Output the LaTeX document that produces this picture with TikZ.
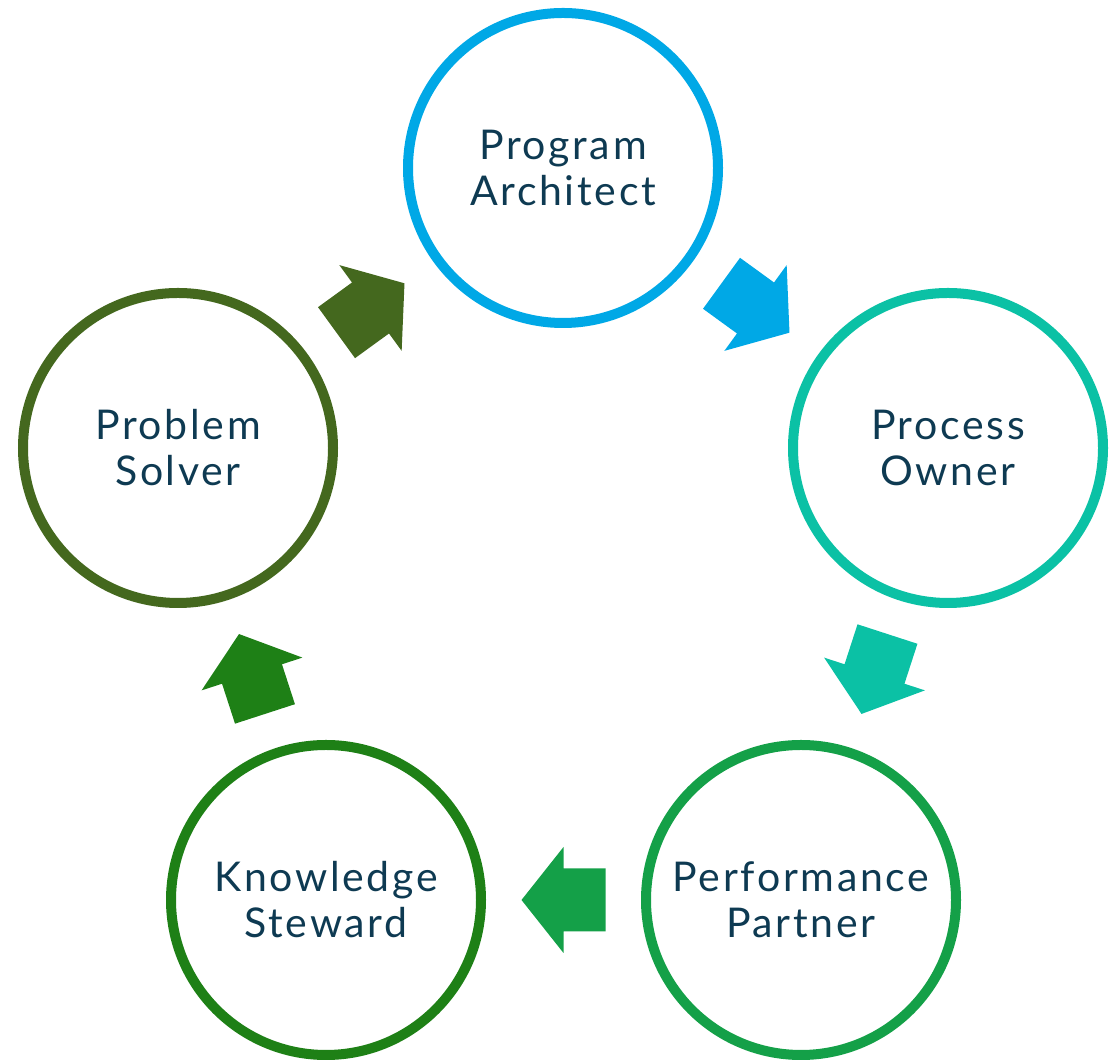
\documentclass[tikz,border=0pt]{standalone}
\usepackage{fontspec}
\setmainfont{Lato}[LetterSpace=6.5]
\usetikzlibrary{calc}

\definecolor{archblue}{RGB}{0,168,230}
\definecolor{ownerteal}{RGB}{11,193,165}
\definecolor{partnergreen}{RGB}{20,160,72}
\definecolor{stewardgreen}{RGB}{30,128,22}
\definecolor{solverolive}{RGB}{68,104,30}
\definecolor{labelnavy}{RGB}{14,58,82}

\tikzset{
	role/.style={circle, draw=#1, line width=10pt, minimum size=310pt, inner sep=0pt,
		align=center, text=labelnavy, font=\fontsize{41}{46}\selectfont},
	blockarrow/.style={fill=#1, draw=none}
}

\begin{document}
\begin{tikzpicture}[x=1pt, y=1pt]
		\useasboundingbox (0, 0) rectangle (1119, 1064);
		\node [role=archblue] (architect) at (563, 896) {Program\\Architect};
		\node [role=ownerteal] (owner) at (948, 616) {Process\\Owner};
		\node [role=partnergreen] (partner) at (801, 164) {Performance\\Partner};
		\node [role=stewardgreen] (steward) at (326, 164) {Knowledge\\Steward};
		\node [role=solverolive] (solver) at (178, 616) {Problem\\Solver};
		\coordinate (m1) at ($(architect.center)!0.5!(owner.center)$);
		\coordinate (m2) at ($(owner.center)!0.5!(partner.center)$);
		\coordinate (m3) at ($(partner.center)!0.5!(steward.center)$);
		\coordinate (m4) at ($(steward.center)!0.5!(solver.center)$);
		\coordinate (m5) at ($(solver.center)!0.5!(architect.center)$);
		\fill [blockarrow=archblue, shift={(m1)}, rotate=-36] (-42, -31.5) -- (0, -31.5) -- (0, -53) -- (42, 0) -- (0, 53) -- (0, 31.5) -- (-42, 31.5) -- cycle;
		\fill [blockarrow=ownerteal, shift={(m2)}, rotate=-108] (-42, -31.5) -- (0, -31.5) -- (0, -53) -- (42, 0) -- (0, 53) -- (0, 31.5) -- (-42, 31.5) -- cycle;
		\fill [blockarrow=partnergreen, shift={(m3)}, rotate=180] (-42, -31.5) -- (0, -31.5) -- (0, -53) -- (42, 0) -- (0, 53) -- (0, 31.5) -- (-42, 31.5) -- cycle;
		\fill [blockarrow=stewardgreen, shift={(m4)}, rotate=108] (-42, -31.5) -- (0, -31.5) -- (0, -53) -- (42, 0) -- (0, 53) -- (0, 31.5) -- (-42, 31.5) -- cycle;
		\fill [blockarrow=solverolive, shift={(m5)}, rotate=36] (-42, -31.5) -- (0, -31.5) -- (0, -53) -- (42, 0) -- (0, 53) -- (0, 31.5) -- (-42, 31.5) -- cycle;
	\end{tikzpicture}
\end{document}
